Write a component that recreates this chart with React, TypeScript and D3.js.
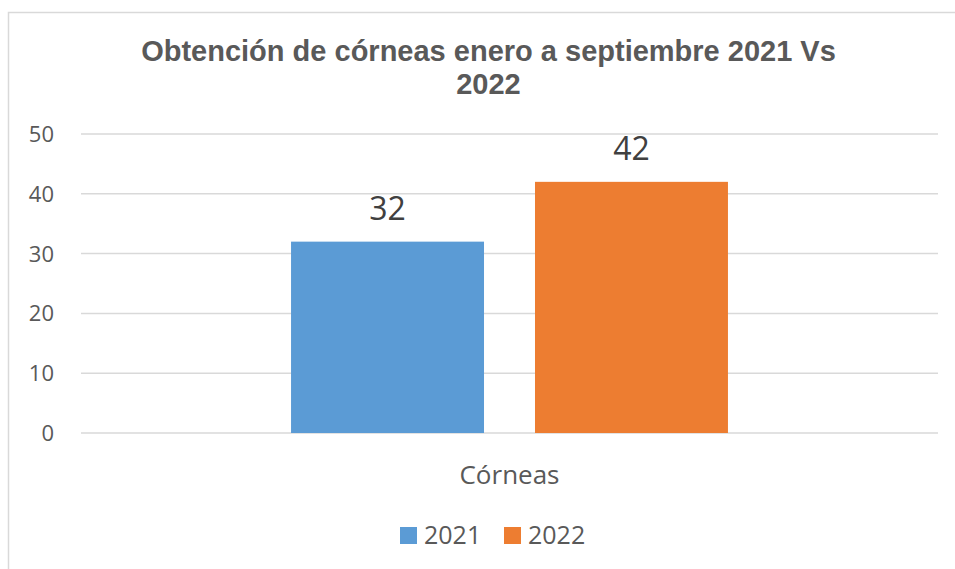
import React from "react";
import * as d3 from "d3";

const categories = ["Córneas"];
const seriesNames = ["2021", "2022"];
const values2021 = [32];
const values2022 = [42];
const yTicks = [0, 10, 20, 30, 40, 50];
const titleLines = ["Obtención de córneas enero a septiembre 2021 Vs", "2022"];
const colors = ["#5B9BD5", "#ED7D31"];

export default function App() {
  const W = 955, H = 569;
  const plotLeft = 81, plotRight = 938, plotTop = 134, plotBottom = 433;
  const y = d3.scaleLinear().domain([0, 50]).range([plotBottom, plotTop]);
  const x0 = d3.scaleBand().domain(categories).range([plotLeft, plotRight]).paddingInner(0).paddingOuter(0);
  const x1 = d3.scaleBand().domain(seriesNames).range([0, x0.bandwidth()]).paddingInner(0.209).paddingOuter(0.861);
  const series = [values2021, values2022];
  const font = "'Open Sans', sans-serif";
  const textColor = "#595959";
  return (
    <svg width={W} height={H} style={{ position: "absolute", left: 0, top: 0, background: "#fff" }}>
      <rect x={8.5} y={12.5} width={W + 20} height={H + 20} fill="#fff" stroke="#d9d9d9" strokeWidth={1.5} />
      {titleLines.map((t, i) => (
        <text key={i} x={488.5} y={61 + i * 33} textAnchor="middle" fontFamily="'Liberation Sans', Arial, sans-serif"
          fontWeight="bold" fontSize={29} fill={textColor}>{t}</text>
      ))}
      {yTicks.map((t) => (
        <g key={t}>
          <line x1={plotLeft} x2={plotRight} y1={y(t)} y2={y(t)} stroke="#d9d9d9" strokeWidth={1.5} />
          <text x={54} y={y(t) + 8} textAnchor="end" fontFamily={font} fontSize={22} fill={textColor}>{t}</text>
        </g>
      ))}
      {categories.map((c, ci) => (
        <g key={c}>
          {seriesNames.map((s, si) => {
            const v = series[si][ci];
            const bx = (x0(c) as number) + (x1(s) as number);
            return (
              <g key={s}>
                <rect x={bx} y={y(v)} width={x1.bandwidth()} height={y(0) - y(v)} fill={colors[si]} />
                <text x={bx + x1.bandwidth() / 2} y={y(v) - 22} textAnchor="middle" fontFamily={font} fontSize={32} fill="#404040">{v}</text>
              </g>
            );
          })}
          <text x={(x0(c) as number) + x0.bandwidth() / 2} y={484} textAnchor="middle" fontFamily={font} fontSize={26} fill={textColor}>{c}</text>
        </g>
      ))}
      {seriesNames.map((s, si) => {
        const lx = 400 + si * 104;
        return (
          <g key={s}>
            <rect x={lx} y={527} width={17} height={17} fill={colors[si]} />
            <text x={lx + 24} y={544} fontFamily={font} fontSize={25} fill={textColor}>{s}</text>
          </g>
        );
      })}
    </svg>
  );
}
